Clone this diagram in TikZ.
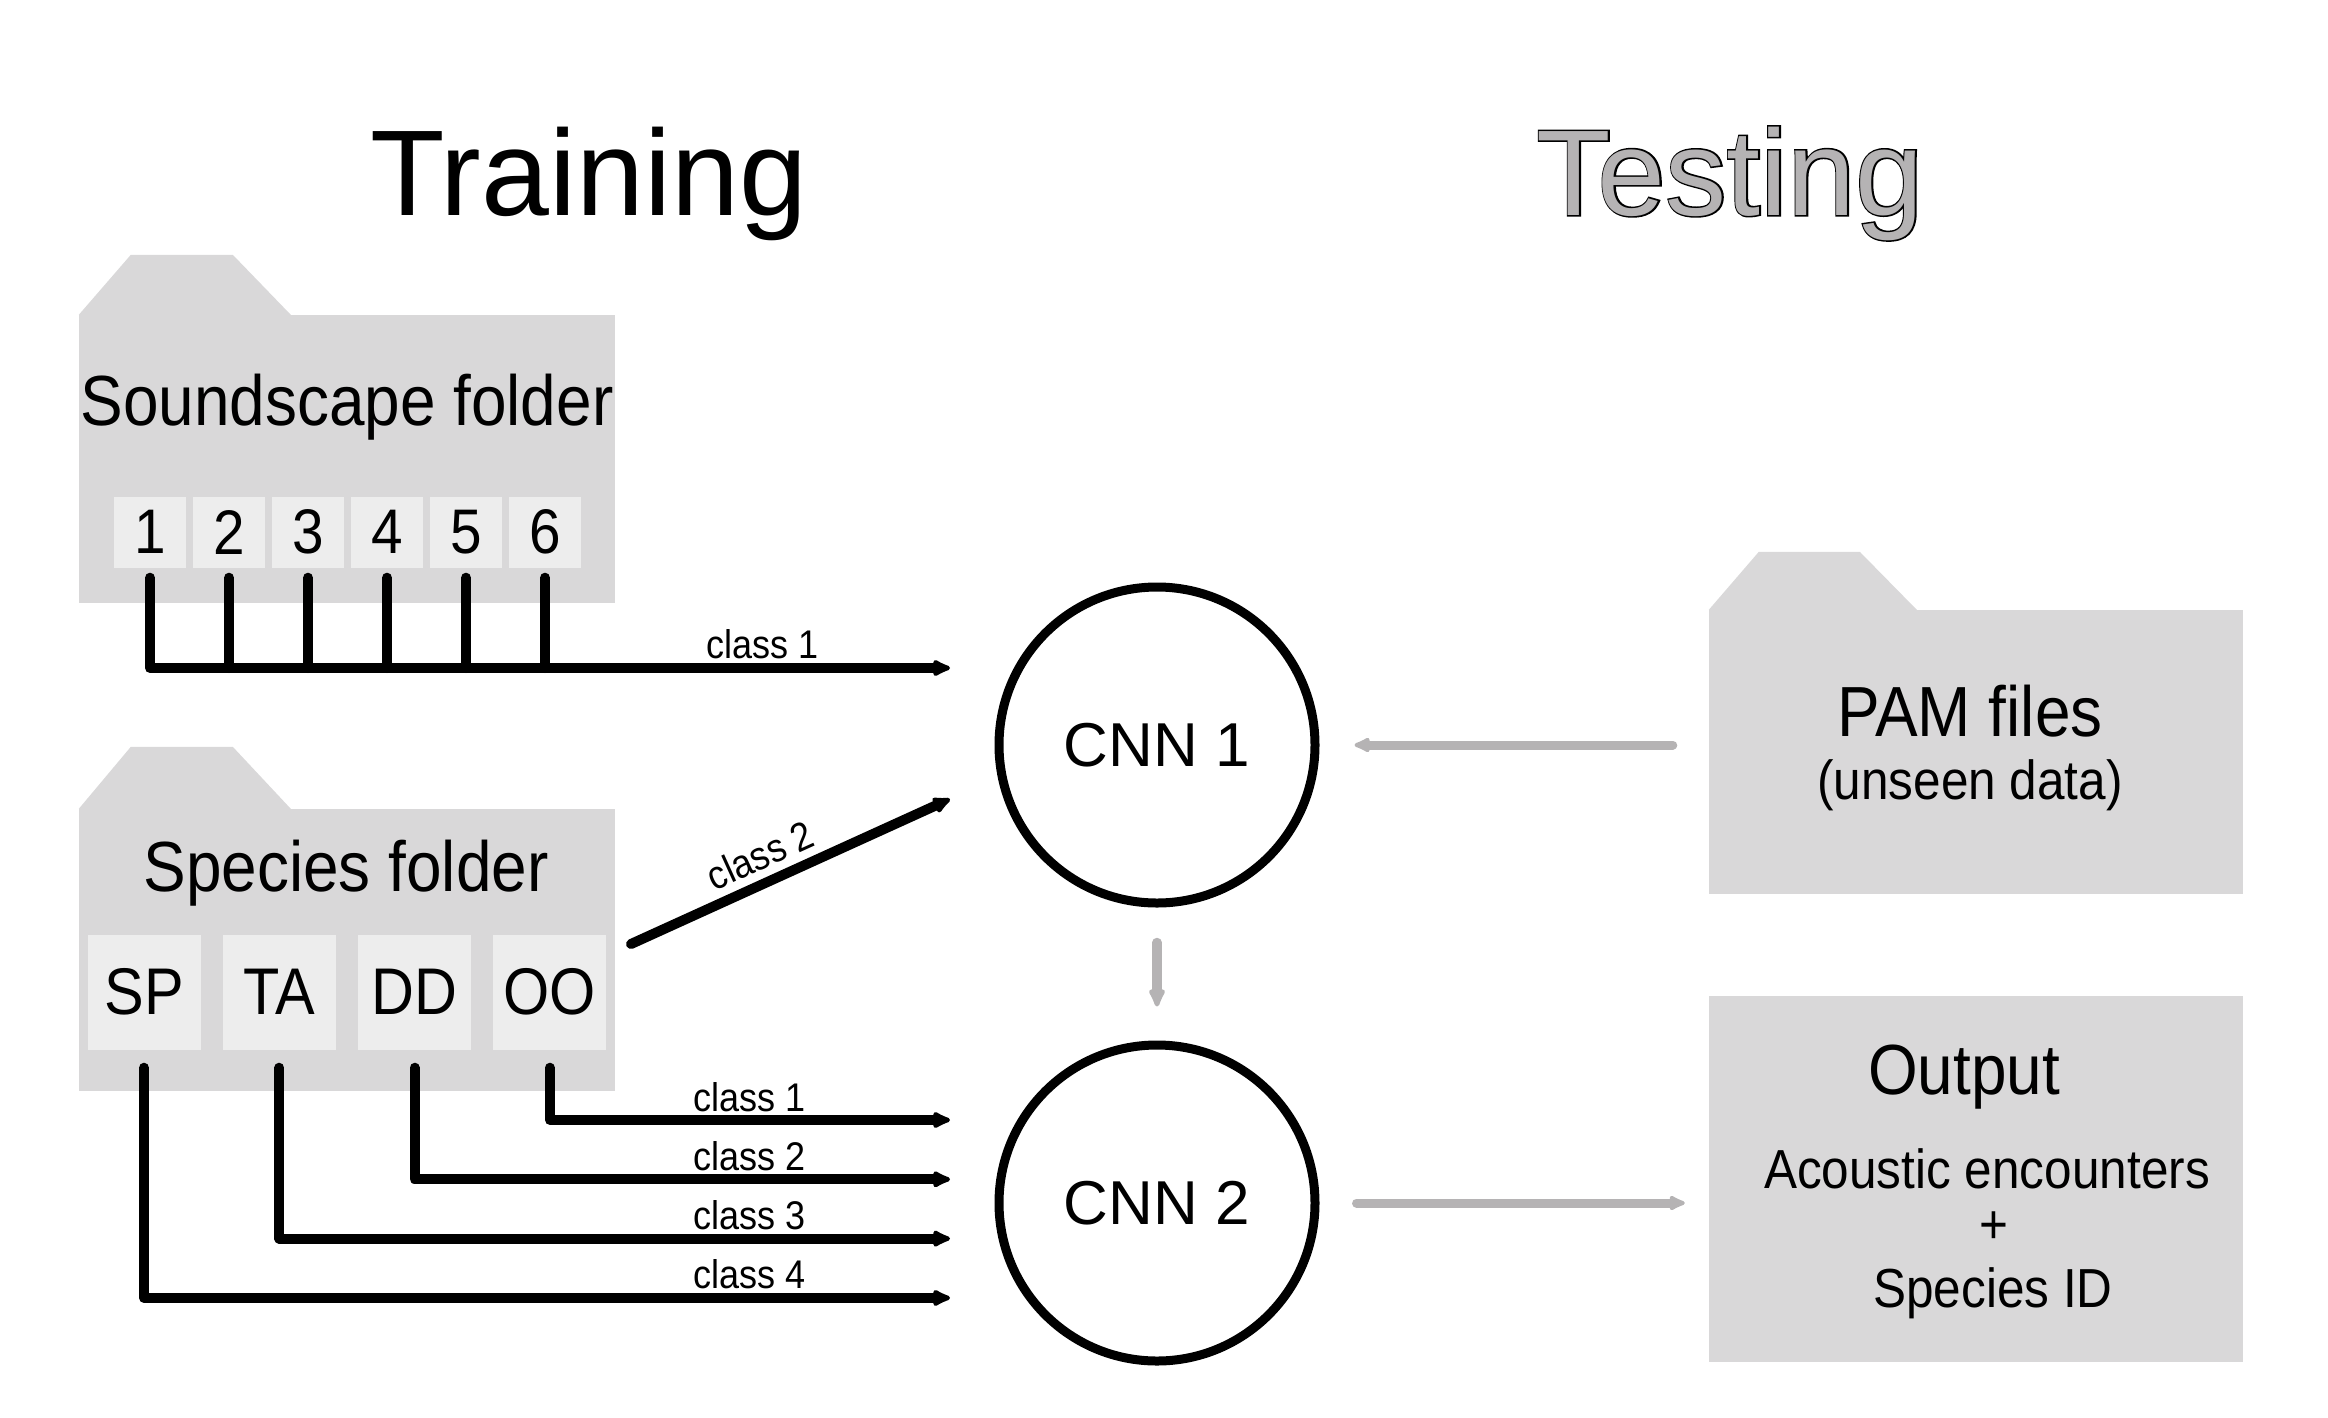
\documentclass[tikz,border=0pt]{standalone}
\usepackage{fontspec}
\setmainfont{Liberation Sans}[FakeStretch=0.9]
\newfontfamily\titlefont{Liberation Sans}
\newfontfamily\outlinefont{Liberation Sans}[FakeBold=2.5]
\usepackage{tikz}
\usetikzlibrary{positioning,arrows.meta}
\definecolor{foldergray}{HTML}{D9D8D9}
\definecolor{boxgray}{HTML}{EDEDED}
\definecolor{arrowgray}{HTML}{B5B3B4}
\newcommand{\fs}[1]{\fontsize{#1}{#1}\selectfont}

\begin{document}
\begin{tikzpicture}[x=1pt,y=-1pt]
\tikzstyle{folder}=[rectangle, fill=foldergray, inner sep=0pt, minimum width=536pt, minimum height=288pt]
\tikzstyle{numbox}=[rectangle, fill=boxgray, minimum width=72pt, minimum height=71pt, inner sep=0pt, font=\fs{63}]
\tikzstyle{spbox}=[rectangle, fill=boxgray, minimum width=113pt, minimum height=115pt, inner sep=0pt, font=\fs{66}]
\tikzstyle{lbl}=[inner sep=0pt, font=\fs{71}]
\tikzstyle{sub}=[inner sep=0pt, font=\fs{55}]
\tikzstyle{cls}=[inner sep=0pt, font=\fs{40}]
\tikzstyle{cnn}=[circle, draw=black, line width=9pt, minimum size=316pt, inner sep=0pt, font=\titlefont\fs{62}]
\tikzstyle{wire}=[line width=10pt, line cap=round, line join=round]
\tikzstyle{connect}=[wire, -{Latex[length=22pt,width=20pt,round]}]
\tikzstyle{gconnect}=[draw=arrowgray, line width=9pt, line cap=round, -{Latex[length=20pt,width=18pt,round]}]
\useasboundingbox (0,0) rectangle (2328,1417);

	\node[anchor=base, font=\titlefont\fs{122}] (train) at (589,215) {Training};
	\node[anchor=base, font=\outlinefont\fs{122}] (test_o) at (1730,215) {Testing};
	\node[anchor=base, font=\titlefont\fs{122}, text=arrowgray] (test) at (1730,215) {Testing};

	% soundscape folder
	\node[folder] (f_snd) at (347,459) {};
	\fill[foldergray] (f_snd.north west) -- ++(52,-60) -- ++(102,0) -- ++(58,60) -- cycle;
	\node[lbl, anchor=base] (t_snd) at (347,425) {Soundscape folder};
	\foreach \i in {1,...,6}
		\node[numbox] (n_\i) at ({150+79*(\i-1)},532) {\i};
	\coordinate (s_end) at (950,668);
	\draw[connect] (n_1.south) ++(0,10) |- (s_end);
	\foreach \i in {2,...,6}
		\draw[wire] (n_\i.south) ++(0,10) -- (n_\i.south |- s_end);
	\node[cls, anchor=base] (l_s1) at (763,658) {class 1};

	% species folder
	\node[folder, minimum height=282pt] (f_sp) at (347,950) {};
	\fill[foldergray] (f_sp.north west) -- ++(52,-62) -- ++(102,0) -- ++(58,62) -- cycle;
	\node[lbl, anchor=base] (t_sp) at (346,891) {Species folder};
	\foreach \s [count=\i] in {SP,TA,DD,OO}
		\node[spbox] (b_\i) at ({144+135.3*(\i-1)},992) {\s};
	\foreach \i/\k in {4/1,3/2,2/3,1/4}{
		\coordinate (c_\k) at (950,{1120+59.3*(\k-1)});
		\draw[connect] (b_\i.south) ++(0,18) |- (c_\k);
		\node[cls, anchor=base] (l_\k) at (750,{1111+59.3*(\k-1)}) {class \k};
	}
	\coordinate (d_s) at (631,944);
	\coordinate (d_e) at (950,799);
	\draw[connect] (d_s) -- node[cls, sloped, above, pos=0.44, inner sep=8pt] (l_d) {class 2} (d_e);

	% networks
	\node[cnn] (cnn_1) at (1157,745) {CNN 1};
	\node[cnn] (cnn_2) at (1157,1203) {CNN 2};

	% testing side
	\node[folder, minimum width=534pt, minimum height=284pt] (f_pam) at (1976,752) {};
	\fill[foldergray] (f_pam.north west) -- ++(50,-58) -- ++(101,0) -- ++(57,58) -- cycle;
	\node[lbl, anchor=base] (t_pam) at (1970,736) {PAM files};
	\node[sub, anchor=base] (t_unseen) at (1970,799) {(unseen data)};

	\node[folder, minimum width=534pt, minimum height=366pt] (f_out) at (1976,1179) {};
	\node[lbl, anchor=base] (t_out) at (1964,1094) {Output};
	\node[sub, anchor=base] (t_ac) at (1987,1188) {Acoustic encounters};
	\node[sub] (t_plus) at (1994,1228) {+};
	\node[sub, anchor=base] (t_id) at (1993,1307) {Species ID};

	\draw[gconnect, shorten <=36pt, shorten >=35pt] (f_pam.west |- cnn_1.east) -- (cnn_1.east);
	\draw[gconnect, line width=9.5pt, -{Latex[length=23pt,width=20pt,round]}, shorten <=35pt, shorten >=34pt] (cnn_1.south) -- (cnn_2.north);
	\draw[gconnect, shorten <=37pt, shorten >=24pt] (cnn_2.east) -- (f_out.west |- cnn_2.east);

\end{tikzpicture}
\end{document}
